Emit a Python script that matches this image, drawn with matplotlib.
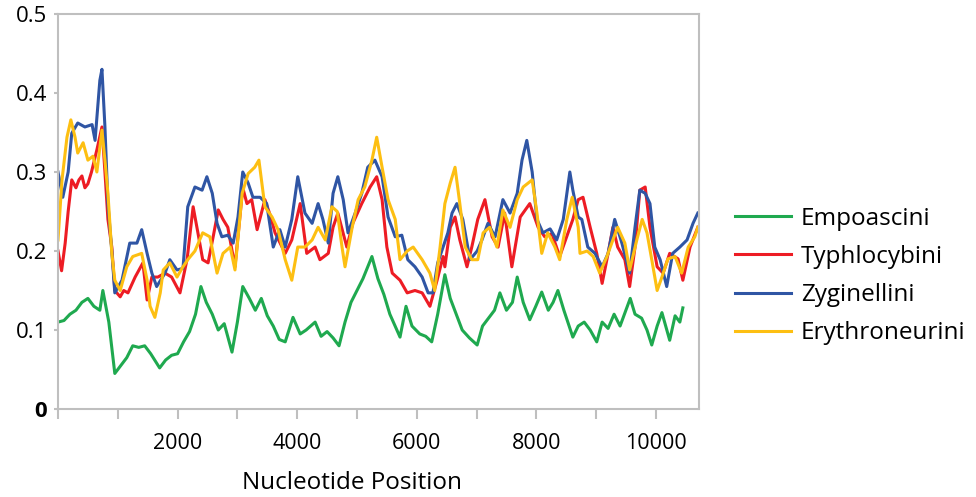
import matplotlib
matplotlib.use("Agg")
import matplotlib.pyplot as plt
from matplotlib.ticker import MultipleLocator

plt.rcParams['font.family'] = ['Open Sans', 'DejaVu Sans']

# Empoascini
emp_x = [0, 100, 200, 300, 400, 500, 600, 700, 750, 850, 950, 1050, 1150, 1250, 1350, 1450,
         1550, 1700, 1800, 1900, 2000, 2100, 2200, 2300, 2390, 2480, 2580, 2680, 2780, 2910,
         3000, 3090, 3200, 3300, 3400, 3500, 3600, 3700, 3800, 3930, 4050, 4150, 4300, 4400,
         4500, 4600, 4700, 4800, 4900, 5000, 5100, 5250, 5350, 5450, 5550, 5720, 5820, 5920,
         6050, 6150, 6250, 6350, 6470, 6560, 6660, 6760, 6880, 7010, 7100, 7200, 7300, 7390,
         7500, 7600, 7680, 7780, 7890, 7990, 8090, 8200, 8280, 8360, 8460, 8610, 8700, 8800,
         8900, 9010, 9100, 9200, 9300, 9400, 9570, 9650, 9760, 9850, 9930, 10020, 10100,
         10230, 10320, 10400, 10450]
emp_y = [.110, .112, .120, .125, .135, .140, .130, .125, .150, .110, .045, .055, .065, .080,
         .078, .080, .070, .052, .062, .068, .070, .085, .098, .120, .155, .135, .120, .100,
         .108, .072, .110, .155, .140, .125, .140, .118, .105, .088, .085, .116, .095, .100,
         .110, .092, .098, .090, .080, .110, .135, .150, .165, .193, .165, .145, .120, .091,
         .130, .105, .095, .092, .085, .120, .170, .140, .120, .100, .090, .081, .105, .115,
         .125, .147, .125, .135, .167, .135, .113, .130, .148, .125, .135, .150, .125, .091,
         .105, .110, .100, .085, .110, .102, .120, .105, .140, .120, .115, .100, .081, .105,
         .122, .087, .118, .110, .128]

# Typhlocybini
typ_x = [0, 60, 120, 170, 230, 300, 350, 400, 450, 500, 560, 650, 735, 785, 835, 900, 950,
         1040, 1100, 1170, 1290, 1420, 1490, 1570, 1670, 1790, 1900, 2040, 2160, 2260, 2340,
         2420, 2510, 2600, 2680, 2760, 2840, 2960, 3090, 3160, 3240, 3330, 3460, 3550, 3630,
         3800, 3910, 4050, 4160, 4300, 4380, 4520, 4600, 4680, 4830, 4930, 5080, 5220, 5330,
         5420, 5500, 5590, 5720, 5840, 5970, 6090, 6220, 6340, 6440, 6470, 6560, 6640, 6720,
         6840, 6920, 7020, 7140, 7260, 7360, 7470, 7590, 7730, 7890, 8030, 8140, 8260, 8390,
         8530, 8610, 8700, 8780, 8900, 9010, 9100, 9200, 9280, 9360, 9480, 9560, 9650, 9730,
         9820, 9900, 10020, 10120, 10230, 10370, 10450, 10570, 10700]
typ_y = [.200, .175, .210, .250, .290, .280, .290, .295, .280, .285, .300, .328, .357, .300,
         .240, .205, .150, .142, .150, .147, .167, .185, .138, .167, .167, .172, .167, .147,
         .190, .256, .223, .189, .185, .220, .252, .240, .230, .180, .280, .260, .265, .227,
         .265, .245, .223, .197, .214, .260, .197, .205, .189, .197, .230, .248, .205, .235,
         .260, .281, .294, .265, .205, .172, .163, .147, .150, .147, .130, .163, .193, .180,
         .230, .243, .214, .180, .205, .240, .265, .218, .205, .248, .180, .243, .260, .230,
         .218, .222, .193, .223, .240, .265, .268, .230, .197, .159, .197, .230, .205, .189,
         .155, .205, .277, .281, .230, .180, .172, .197, .190, .163, .205, .230]

# Zyginellini
zyg_x = [0, 80, 170, 230, 330, 450, 570, 620, 700, 735, 785, 835, 900, 950, 1070, 1200,
         1320, 1400, 1490, 1570, 1650, 1790, 1870, 1990, 2090, 2170, 2290, 2410, 2490, 2580,
         2660, 2740, 2840, 2930, 3010, 3090, 3180, 3260, 3380, 3490, 3600, 3710, 3800, 3910,
         4010, 4130, 4250, 4350, 4430, 4520, 4600, 4680, 4770, 4850, 4970, 5080, 5180, 5300,
         5420, 5520, 5640, 5750, 5850, 5970, 6090, 6190, 6270, 6350, 6440, 6520, 6590, 6670,
         6770, 6890, 7010, 7090, 7190, 7310, 7440, 7560, 7680, 7760, 7840, 7930, 8010, 8110,
         8230, 8340, 8450, 8560, 8610, 8700, 8760, 8860, 8980, 9100, 9200, 9310, 9430, 9560,
         9650, 9730, 9820, 9900, 9980, 10070, 10180, 10280, 10400, 10520, 10620, 10700]
zyg_y = [.300, .268, .300, .349, .362, .357, .360, .340, .416, .430, .357, .260, .200, .147,
         .163, .210, .210, .227, .197, .172, .155, .172, .189, .176, .178, .256, .281, .277,
         .294, .273, .235, .218, .220, .210, .243, .300, .286, .268, .268, .260, .205, .227,
         .205, .240, .294, .248, .235, .260, .240, .210, .273, .294, .265, .223, .248, .273,
         .306, .315, .294, .243, .218, .220, .189, .180, .167, .147, .147, .185, .205, .223,
         .248, .260, .240, .189, .200, .214, .235, .218, .265, .248, .273, .315, .340, .300,
         .240, .223, .228, .214, .240, .300, .277, .243, .240, .205, .197, .180, .197, .240,
         .210, .172, .230, .277, .273, .260, .205, .189, .155, .197, .205, .214, .235, .248]

# Erythroneurini
ery_x = [0, 67, 150, 215, 285, 330, 420, 500, 585, 650, 735, 785, 835, 900, 950, 1040, 1150,
         1250, 1400, 1490, 1540, 1620, 1710, 1760, 1870, 1990, 2090, 2170, 2290, 2420, 2540,
         2660, 2760, 2880, 2960, 3080, 3180, 3290, 3360, 3460, 3580, 3680, 3800, 3910, 4010,
         4130, 4250, 4350, 4470, 4580, 4670, 4750, 4800, 4920, 5020, 5130, 5250, 5330, 5420,
         5520, 5640, 5720, 5840, 5940, 6090, 6220, 6300, 6390, 6470, 6560, 6640, 6720, 6810,
         6920, 7020, 7110, 7220, 7340, 7440, 7560, 7680, 7780, 7930, 8010, 8090, 8190, 8310,
         8390, 8510, 8600, 8700, 8730, 8850, 8950, 9060, 9180, 9280, 9360, 9480, 9560, 9680,
         9770, 9850, 9930, 10020, 10100, 10200, 10320, 10430, 10540, 10650, 10700]
ery_y = [.214, .290, .344, .366, .344, .324, .337, .315, .320, .300, .353, .315, .273, .197,
         .163, .150, .180, .193, .197, .163, .130, .116, .147, .176, .185, .167, .180, .189,
         .200, .223, .218, .172, .197, .205, .176, .273, .298, .306, .315, .256, .243, .227,
         .189, .163, .205, .205, .214, .230, .214, .256, .250, .205, .180, .230, .265, .281,
         .315, .344, .306, .265, .240, .189, .200, .205, .189, .172, .150, .205, .260, .286,
         .306, .260, .205, .189, .189, .223, .230, .205, .252, .230, .265, .281, .290, .248,
         .197, .223, .205, .189, .240, .268, .230, .197, .200, .193, .172, .193, .214, .230,
         .210, .176, .214, .240, .223, .189, .150, .167, .190, .193, .172, .205, .218, .230]

labels = ["Empoascini", "Typhlocybini", "Zyginellini", "Erythroneurini"]
colors = ["#1fa94f", "#ed1c24", "#2f55a4", "#fdbf12"]

fig = plt.figure(figsize=(9.76, 4.97), dpi=100)
ax = fig.add_axes([58 / 976, 88 / 497, 641 / 976, 395 / 497])

series = [(emp_x, emp_y), (typ_x, typ_y), (zyg_x, zyg_y), (ery_x, ery_y)]
for (xs, ys), lab, col in zip(series, labels, colors):
    ax.plot(xs, ys, color=col, lw=2.2, label=lab)

ax.set_xlim(0, 10720)
ax.set_ylim(0, 0.5)

for s in ax.spines.values():
    s.set_color("#bfbfbf")
    s.set_linewidth(1.5)

ax.xaxis.set_major_locator(MultipleLocator(1000))
ax.set_xticklabels([str(int(v)) if v > 0 and int(v) % 2000 == 0 else ""
                    for v in ax.get_xticks()])
ax.set_yticks([0, 0.1, 0.2, 0.3, 0.4, 0.5])
ax.set_yticklabels(["0", "0.1", "0.2", "0.3", "0.4", "0.5"])
ax.get_yticklabels()[0].set_fontweight("bold")
ax.tick_params(axis="x", direction="out", length=7, width=1.5, color="#bfbfbf",
               labelsize=15.5, pad=10)
ax.tick_params(axis="y", direction="out", length=3, width=1.5, color="#bfbfbf",
               labelsize=16, pad=5)
ax.set_xlabel("Nucleotide Position", fontsize=17.5)
ax.xaxis.set_label_coords((352 - 58) / 641, -(483 - 409) / 395)
ax.xaxis.label.set_va("center")

fig.legend(loc="center left", bbox_to_anchor=(735 / 976, 1 - 276 / 497),
           frameon=False, fontsize=17.5, handlelength=2.3, handletextpad=0.4,
           labelspacing=0.58, borderpad=0, borderaxespad=0)

fig.savefig("out.png", dpi=100)
